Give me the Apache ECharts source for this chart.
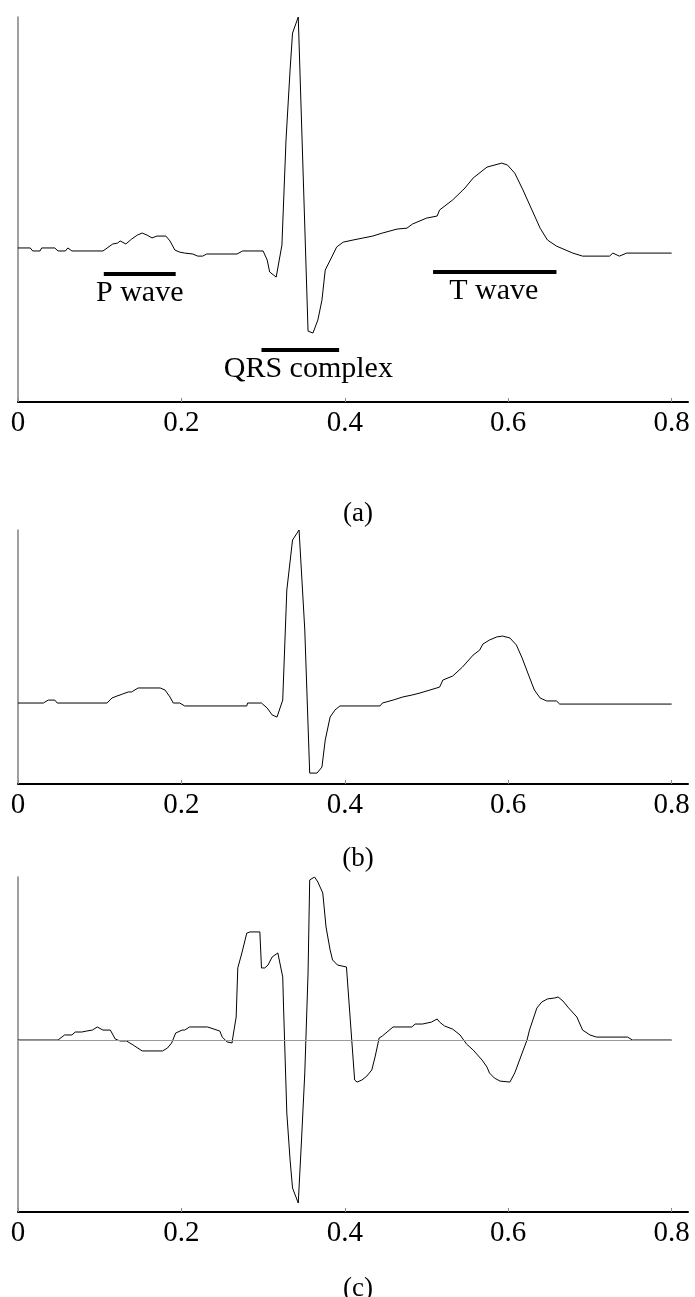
<!DOCTYPE html>
<html>
<head>
<meta charset="utf-8">
<script src="https://cdn.jsdelivr.net/npm/echarts@6/dist/echarts.min.js"></script>
<style>
  html, body { margin: 0; padding: 0; background: #fff; }
  #ecg { width: 695px; height: 1297px; }
</style>
</head>
<body>
<div id="ecg"></div>
<script>
// time axis ticks (s)
var tickValues = [0, 0.2, 0.4, 0.6, 0.8];

// (a) original beat
var aT = [0, 0.015, 0.018, 0.027, 0.029, 0.045, 0.049, 0.058, 0.061, 0.066,
    0.104, 0.116, 0.122, 0.125, 0.132, 0.139, 0.146, 0.152, 0.158, 0.164,
    0.170, 0.181, 0.186, 0.192, 0.198, 0.204, 0.214, 0.220, 0.226, 0.231,
    0.268, 0.275, 0.300, 0.305, 0.308, 0.316, 0.323, 0.328, 0.333, 0.336,
    0.343, 0.355, 0.361, 0.367, 0.372, 0.376, 0.384, 0.390, 0.398, 0.410,
    0.434, 0.446, 0.464, 0.476, 0.483, 0.500, 0.513, 0.514, 0.516, 0.532,
    0.547, 0.557, 0.574, 0.592, 0.599, 0.608, 0.618, 0.629, 0.639, 0.648,
    0.659, 0.679, 0.691, 0.724, 0.728, 0.736, 0.745, 0.8];
var aV = [0.009, 0.009, -0.004, -0.004, 0.009, 0.009, -0.004, -0.004, 0.009, -0.004,
    -0.004, 0.026, 0.030, 0.039, 0.026, 0.047, 0.064, 0.073, 0.064, 0.052,
    0.060, 0.060, 0.039, 0.000, -0.009, -0.013, -0.017, -0.026, -0.026, -0.017,
    -0.017, -0.004, -0.004, -0.043, -0.094, -0.116, 0.021, 0.472, 0.773, 0.931,
    1.000, -0.348, -0.356, -0.300, -0.215, -0.086, -0.030, 0.013, 0.034, 0.043,
    0.060, 0.073, 0.090, 0.094, 0.112, 0.137, 0.146, 0.140, 0.172, 0.215,
    0.266, 0.309, 0.356, 0.373, 0.365, 0.330, 0.258, 0.172, 0.094, 0.043,
    0.017, -0.013, -0.026, -0.026, -0.013, -0.026, -0.013, -0.013];

// (b) smoothed beat
var bT = [0, 0.031, 0.037, 0.045, 0.048, 0.109, 0.115, 0.121, 0.128, 0.135,
    0.139, 0.147, 0.174, 0.180, 0.186, 0.190, 0.198, 0.204, 0.280, 0.281,
    0.298, 0.305, 0.311, 0.317, 0.324, 0.329, 0.336, 0.344, 0.351, 0.357,
    0.366, 0.372, 0.376, 0.382, 0.388, 0.394, 0.443, 0.446, 0.459, 0.471,
    0.482, 0.492, 0.504, 0.516, 0.520, 0.532, 0.544, 0.557, 0.565, 0.569,
    0.577, 0.586, 0.593, 0.602, 0.610, 0.617, 0.624, 0.632, 0.639, 0.647,
    0.659, 0.663, 0.8];
var bV = [0, 0, 0.017, 0.017, 0, 0, 0.029, 0.040, 0.052, 0.064,
    0.064, 0.087, 0.087, 0.075, 0.035, 0, 0, -0.017, -0.017, 0,
    0, -0.029, -0.069, -0.081, 0.017, 0.653, 0.942, 1.000, 0.422, -0.405,
    -0.405, -0.370, -0.214, -0.081, -0.040, -0.017, -0.017, 0, 0.017, 0.035,
    0.046, 0.058, 0.075, 0.092, 0.133, 0.156, 0.208, 0.277, 0.306, 0.341,
    0.364, 0.382, 0.387, 0.376, 0.335, 0.260, 0.173, 0.075, 0.029, 0.012,
    0.012, -0.006, -0.006];

// (c) derivative-like signal
var cT = [0, 0.049, 0.057, 0.066, 0.070, 0.078, 0.084, 0.091, 0.097, 0.104,
    0.113, 0.119, 0.125, 0.133, 0.141, 0.152, 0.177, 0.183, 0.188, 0.193,
    0.201, 0.204, 0.210, 0.232, 0.247, 0.250, 0.256, 0.262, 0.263, 0.267,
    0.269, 0.274, 0.280, 0.284, 0.296, 0.298, 0.302, 0.306, 0.311, 0.318,
    0.324, 0.325, 0.329, 0.333, 0.336, 0.343, 0.347, 0.351, 0.355, 0.357,
    0.363, 0.367, 0.373, 0.377, 0.382, 0.385, 0.391, 0.402, 0.412, 0.415,
    0.421, 0.427, 0.433, 0.437, 0.442, 0.446, 0.459, 0.482, 0.486, 0.495,
    0.506, 0.513, 0.516, 0.522, 0.532, 0.541, 0.549, 0.557, 0.568, 0.574,
    0.577, 0.583, 0.590, 0.602, 0.608, 0.617, 0.623, 0.626, 0.635, 0.641,
    0.648, 0.657, 0.661, 0.667, 0.673, 0.684, 0.691, 0.700, 0.708, 0.746,
    0.752, 0.8];
var cV = [0, 0, 0.031, 0.031, 0.049, 0.049, 0.055, 0.061, 0.080, 0.061,
    0.061, 0.006, -0.006, -0.006, -0.031, -0.067, -0.067, -0.049, -0.018, 0.043,
    0.061, 0.061, 0.080, 0.080, 0.055, 0.018, -0.012, -0.018, 0.018, 0.141,
    0.442, 0.534, 0.656, 0.663, 0.663, 0.442, 0.442, 0.460, 0.509, 0.534,
    0.387, 0.202, -0.448, -0.736, -0.908, -1.000, -0.613, -0.202, 0.411, 0.982,
    1.000, 0.969, 0.902, 0.693, 0.552, 0.491, 0.460, 0.448, -0.245, -0.258,
    -0.245, -0.221, -0.184, -0.104, 0.012, 0.025, 0.080, 0.080, 0.098, 0.098,
    0.110, 0.129, 0.110, 0.086, 0.067, 0.031, -0.025, -0.061, -0.123, -0.166,
    -0.202, -0.233, -0.252, -0.258, -0.202, -0.080, 0, 0.061, 0.196, 0.233,
    0.252, 0.258, 0.264, 0.239, 0.202, 0.141, 0.061, 0.031, 0.018, 0.018,
    0, 0];

// wave annotations on panel (a)
var annoNames = ['P wave', 'QRS complex', 'T wave'];
var annoStart = [0.105, 0.298, 0.508];
var annoEnd = [0.193, 0.393, 0.659];
var annoLevel = [-0.103, -0.429, -0.094];

var panelNames = ['(a)', '(b)', '(c)'];

function zip(t, v) {
    var out = [];
    for (var i = 0; i < t.length; i++) out.push([t[i], v[i]]);
    return out;
}

var serif = '"Liberation Serif", "DejaVu Serif", serif';

var grids = [
    {left: 18, top: 17, width: 670, height: 385},
    {left: 18, top: 530, width: 670, height: 254},
    {left: 18, top: 877, width: 670, height: 335}
];
var yRanges = [[-0.652, 1.0], [-0.468, 1.0], [-1.055, 1.0]];
var labelTops = [495, 840, 1270];
// QRS label sits a little right of its bar
var labelShift = [0, 8, -1];

var xAxes = [], yAxes = [], titles = [];
for (var g = 0; g < 3; g++) {
    xAxes.push({
        gridIndex: g, type: 'value', min: 0, max: 0.82,
        axisLine: {onZero: false, lineStyle: {color: '#000', width: 2}},
        axisTick: {inside: true, length: 4, customValues: tickValues, lineStyle: {color: '#888'}},
        axisLabel: {
            customValues: tickValues, margin: 7, color: '#000',
            fontFamily: serif, fontSize: 29,
            formatter: function (v) { return String(v); }
        },
        splitLine: {show: false}
    });
    yAxes.push({
        gridIndex: g, type: 'value', min: yRanges[g][0], max: yRanges[g][1],
        axisLine: {show: true, onZero: false, lineStyle: {color: '#808080', width: 1.5}},
        axisTick: {show: false},
        axisLabel: {show: false},
        splitLine: {show: false}
    });
    titles.push({
        text: panelNames[g], left: 353, top: labelTops[g], textAlign: 'center',
        textStyle: {fontFamily: serif, fontWeight: 'normal', fontSize: 27, color: '#000'}
    });
}

var annoLines = [];
for (var k = 0; k < annoNames.length; k++) {
    annoLines.push([
        {coord: [annoStart[k], annoLevel[k]], name: annoNames[k],
            label: {offset: [labelShift[k], 0]}},
        {coord: [annoEnd[k], annoLevel[k]]}
    ]);
}

var lineStyle = {color: '#000', width: 1};

var myChart = echarts.init(document.getElementById('ecg'));
option = {
    backgroundColor: '#fff',
    animation: false,
    title: titles,
    grid: grids,
    xAxis: xAxes,
    yAxis: yAxes,
    series: [
        {
            type: 'line', xAxisIndex: 0, yAxisIndex: 0, data: zip(aT, aV),
            showSymbol: false, lineStyle: lineStyle,
            markLine: {
                silent: true, symbol: 'none',
                lineStyle: {color: '#000', width: 4, type: 'solid'},
                label: {
                    show: true, position: 'insideMiddleBottom', distance: 4,
                    formatter: '{b}', color: '#000', fontFamily: serif, fontSize: 30
                },
                data: annoLines
            }
        },
        {
            type: 'line', xAxisIndex: 1, yAxisIndex: 1, data: zip(bT, bV),
            showSymbol: false, lineStyle: lineStyle
        },
        {
            type: 'line', xAxisIndex: 2, yAxisIndex: 2, data: zip(cT, cV),
            showSymbol: false, lineStyle: lineStyle,
            markLine: {
                silent: true, symbol: 'none', label: {show: false},
                lineStyle: {color: '#999', width: 1, type: 'solid'},
                data: [[{coord: [0, 0]}, {coord: [0.8, 0]}]]
            }
        }
    ]
};

myChart.setOption(option);
</script>
</body>
</html>
